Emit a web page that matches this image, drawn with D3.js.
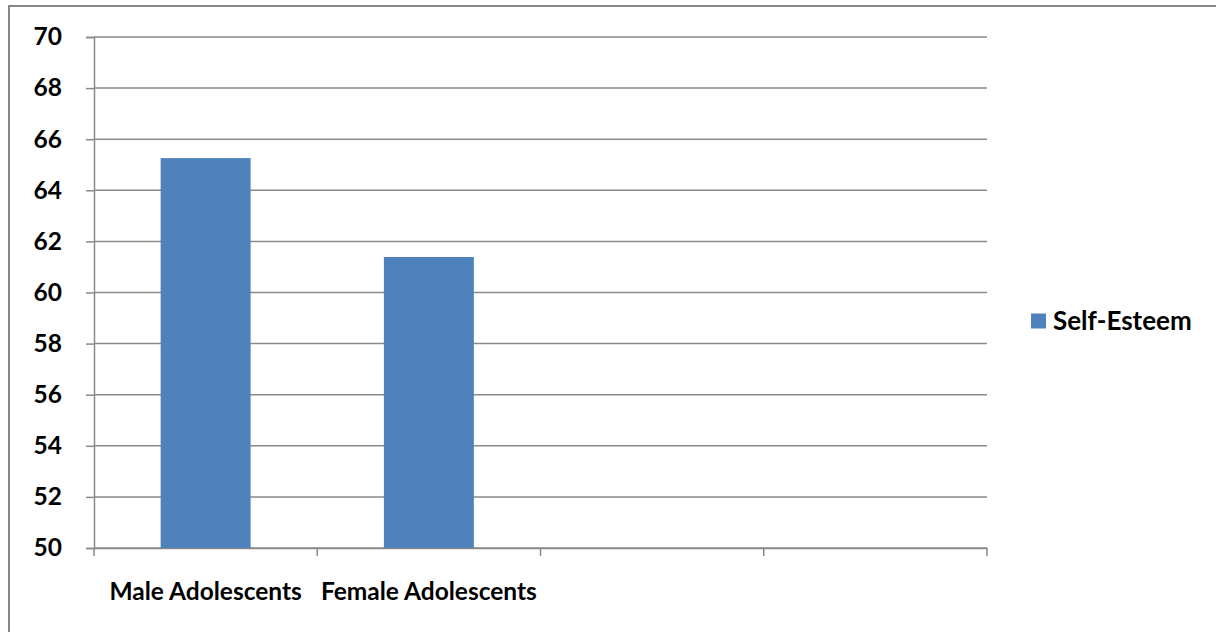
<!DOCTYPE html>
<html>
<head>
<meta charset="utf-8">
<script src="https://d3js.org/d3.v7.min.js"></script>
<style>
  body { margin: 0; background: #fff; }
  text { font-family: Lato, "Open Sans", sans-serif; font-weight: bold; fill: #000; }
</style>
</head>
<body>
<div id="chart-holder"></div>
<script>
// chart data
var categories = ["Male Adolescents", "Female Adolescents", "", " "];
var selfEsteem = [65.26, 61.39, null, null];
var yTicks = [50, 52, 54, 56, 58, 60, 62, 64, 66, 68, 70];
var seriesName = "Self-Esteem";

// set dimensions
var margin = {top: 37, right: 229, bottom: 84, left: 94},
    width = 1216 - margin.left - margin.right,
    height = 632 - margin.top - margin.bottom;

var root = d3.select("#chart-holder")
  .append("svg")
    .attr("width", 1216)
    .attr("height", 632);

// outer frame of the chart area
root.append("rect")
  .attr("x", 9)
  .attr("y", 6)
  .attr("width", 1400)
  .attr("height", 800)
  .attr("fill", "none")
  .attr("stroke", "#878787")
  .attr("stroke-width", 2);

var svg = root.append("g")
  .attr("transform", "translate(" + margin.left + "," + margin.top + ")");

// y-axis
var y = d3.scaleLinear()
  .domain([50, 70])
  .range([height, 0]);

// gridlines
svg.append("g")
  .selectAll("line")
  .data(yTicks)
  .enter()
  .append("line")
    .attr("x1", 0)
    .attr("x2", width)
    .attr("y1", function(d) { return y(d); })
    .attr("y2", function(d) { return y(d); })
    .attr("stroke", "#8a8a8a")
    .attr("stroke-width", 1.5);

var yAxis = svg.append("g")
  .call(d3.axisLeft(y).tickValues(yTicks).tickSize(8).tickPadding(24));
yAxis.selectAll("line, path").attr("stroke", "#8a8a8a").attr("stroke-width", 1.5);
yAxis.selectAll("text")
  .style("font-size", "24.5px")
  .style("font-family", "Lato, sans-serif")
  .style("font-weight", "bold")
  .attr("fill", "#000");

// x-axis
var x = d3.scaleBand()
  .domain(categories)
  .range([0, width]);

var xAxis = svg.append("g")
  .attr("transform", "translate(0," + height + ")")
  .call(d3.axisBottom(x).tickSize(0).tickSizeOuter(0).tickPadding(35));
xAxis.select("path").attr("stroke", "#8a8a8a").attr("stroke-width", 1.5);
xAxis.selectAll("text")
  .style("font-size", "24.5px")
  .style("font-family", "Lato, sans-serif")
  .style("font-weight", "bold")
  .attr("fill", "#000");

// category boundary ticks
svg.append("g")
  .selectAll("line")
  .data(categories.concat(["end"]))
  .enter()
  .append("line")
    .attr("x1", function(d, i) { return i * x.step(); })
    .attr("x2", function(d, i) { return i * x.step(); })
    .attr("y1", height)
    .attr("y2", height + 8)
    .attr("stroke", "#8a8a8a")
    .attr("stroke-width", 1.5);

// add bars
var barW = x.bandwidth() * 0.403;
svg.selectAll("myRect")
  .data(categories.map(function(c, i) { return {name: c, value: selfEsteem[i]}; })
    .filter(function(d) { return d.value != null; }))
  .enter()
  .append("rect")
    .attr("x", function(d) { return x(d.name) + (x.bandwidth() - barW) / 2; })
    .attr("y", function(d) { return y(d.value); })
    .attr("width", barW)
    .attr("height", function(d) { return y(50) - y(d.value); })
    .attr("fill", "#4f81bd");

// legend
var legend = root.append("g")
  .attr("transform", "translate(1031,321)");
legend.append("rect")
  .attr("x", 0)
  .attr("y", -7.5)
  .attr("width", 15)
  .attr("height", 15)
  .attr("fill", "#4f81bd");
legend.append("text")
  .attr("x", 22)
  .attr("y", 8.5)
  .style("font-size", "26px")
  .text(seriesName);
</script>
</body>
</html>
